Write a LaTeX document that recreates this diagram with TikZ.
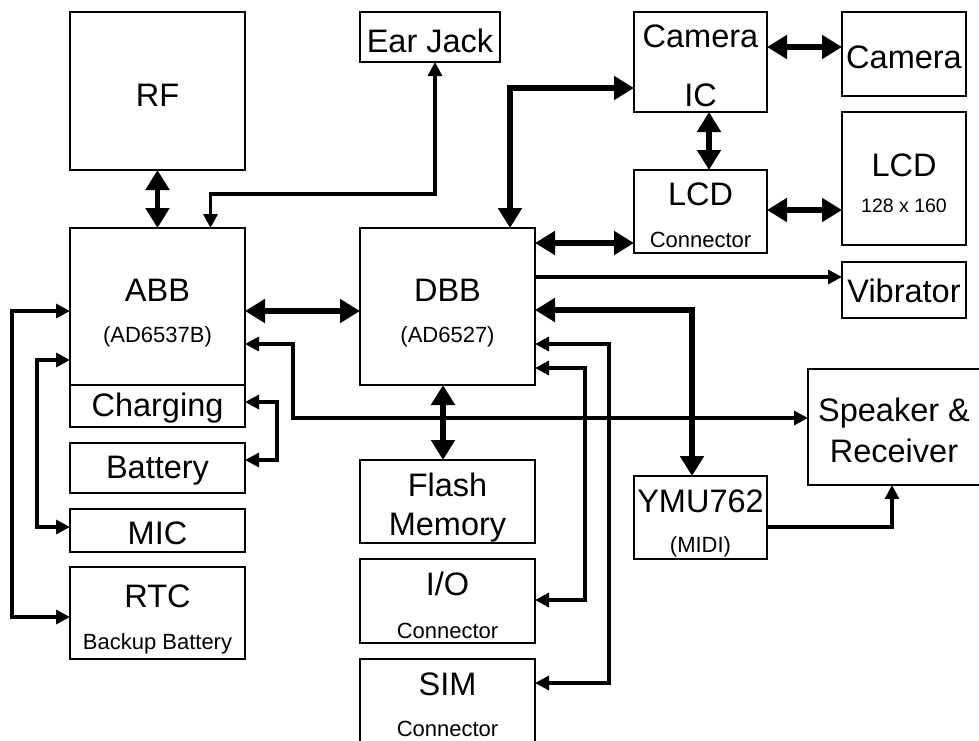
\documentclass[tikz,border=0pt]{standalone}
\usepackage{fontspec}
\setmainfont{Liberation Sans}
\usetikzlibrary{arrows.meta,calc}
\begin{document}
\begin{tikzpicture}[x=1pt,y=-1pt,
  box/.style={draw, line width=1.6pt, inner sep=0pt, outer sep=0pt},
  big/.style={font=\fontsize{32.5}{36}\selectfont, anchor=base, inner sep=0pt},
  small/.style={font=\fontsize{22}{26}\selectfont, anchor=base, inner sep=0pt},
  tiny/.style={font=\fontsize{19.5}{22}\selectfont, anchor=base, inner sep=0pt},
  thinline/.style={line width=3.2pt, {Triangle[length=14pt,width=14pt]}-{Triangle[length=14pt,width=14pt]}},
  thinone/.style={line width=3.2pt, -{Triangle[length=14pt,width=14pt]}},
  thickline/.style={line width=5.6pt, {Triangle[length=20pt,width=23pt]}-{Triangle[length=20pt,width=23pt]}}
]
\useasboundingbox (0,0) rectangle (979,740);

% boxes
\node[box, minimum width=175pt, minimum height=158pt] (rf) at (157.5,91) {};
\node[box, minimum width=140pt, minimum height=50pt] (earjack) at (430,37) {};
\node[box, minimum width=175pt, minimum height=157pt] (abb) at (157.5,306.5) {};
\node[box, minimum width=175pt, minimum height=42pt] (charging) at (157.5,406) {};
\node[box, minimum width=175pt, minimum height=50pt] (battery) at (157.5,468) {};
\node[box, minimum width=175pt, minimum height=43pt] (mic) at (157.5,530.5) {};
\node[box, minimum width=175pt, minimum height=92pt] (rtc) at (157.5,613) {};
\node[box, minimum width=175pt, minimum height=157pt] (dbb) at (447.5,306.5) {};
\node[box, minimum width=175pt, minimum height=83pt] (flash) at (447.5,501.5) {};
\node[box, minimum width=175pt, minimum height=84pt] (io) at (447.5,601) {};
\node[box, minimum width=175pt, minimum height=101pt] (sim) at (447.5,709.5) {};
\node[box, minimum width=133pt, minimum height=100pt] (camic) at (700.5,62) {};
\node[box, minimum width=124pt, minimum height=84pt] (camera) at (904,54) {};
\node[box, minimum width=133pt, minimum height=83pt] (lcdconn) at (700.5,211.5) {};
\node[box, minimum width=124pt, minimum height=133pt] (lcd) at (904,178.5) {};
\node[box, minimum width=124pt, minimum height=56pt] (vib) at (904,290) {};
\node[box, minimum width=184pt, minimum height=116pt] (spk) at (900,427) {};
\node[box, minimum width=133pt, minimum height=83pt] (ymu) at (700.5,517.5) {};

% texts
\node[big] (trf) at (157.5,106) {RF};
\node[big] (tear) at (430,52) {Ear Jack};
\node[big] (tabb) at (157.5,301) {ABB};
\node[small] (tabbs) at (157.5,342) {(AD6537B)};
\node[big] (tchg) at (157.5,416) {Charging};
\node[big] (tbat) at (157.5,478) {Battery};
\node[big] (tmic) at (157.5,544) {MIC};
\node[big] (trtc) at (157.5,607) {RTC};
\node[small] (trtcs) at (157.5,649) {Backup Battery};
\node[big] (tdbb) at (447.5,301) {DBB};
\node[small] (tdbbs) at (447.5,342) {(AD6527)};
\node[big] (tfl1) at (447.5,496) {Flash};
\node[big] (tfl2) at (447.5,535) {Memory};
\node[big] (tio) at (447.5,595) {I/O};
\node[small] (tios) at (447.5,638) {Connector};
\node[big] (tsim) at (447.5,695) {SIM};
\node[small] (tsims) at (447.5,736) {Connector};
\node[big] (tcam1) at (700.5,47) {Camera};
\node[big] (tcam2) at (700.5,106) {IC};
\node[big] (tcam) at (904,68) {Camera};
\node[big] (tlcdc) at (700.5,205) {LCD};
\node[small] (tlcdcs) at (700.5,247) {Connector};
\node[big] (tlcd) at (904,176) {LCD};
\node[tiny] (tlcds) at (904,212) {128 x 160};
\node[big] (tvib) at (904,302) {Vibrator};
\node[big] (tspk1) at (894,421) {Speaker \&};
\node[big] (tspk2) at (894,462) {Receiver};
\node[big] (tymu) at (700.5,512) {YMU762};
\node[small] (tymus) at (700.5,552) {(MIDI)};

% thick connectors
\draw[thickline] (rf.south) -- (abb.north);
\draw[thickline] ($(abb.north east)+(0,83)$) -- ($(dbb.north west)+(0,83)$);
\draw[thickline] ($(dbb.north west)+(150,0)$) |- ($(camic.north west)+(0,76)$);
\draw[thickline] ($(camic.north east)+(0,35)$) -- ($(camera.north west)+(0,35)$);
\draw[thickline] ($(camic.south)+(8.5,0)$) -- ($(lcdconn.north)+(8.5,0)$);
\draw[thickline] ($(lcdconn.north east)+(0,40)$) -- ($(lcd.north west)+(0,98)$);
\draw[thickline] ($(dbb.north east)+(0,15)$) -- ($(lcdconn.north west)+(0,73)$);
\draw[thickline] ($(dbb.north east)+(0,82)$) -| ($(ymu.north)+(-8.5,0)$);
\draw[thickline] ($(dbb.south)+(-4.5,0)$) -- ($(flash.north)+(-4.5,0)$);

% thin connectors
\draw[thinline] ($(abb.north)+(53,0)$) -- ++(0,-34) -| ($(earjack.south)+(5,0)$);
\draw[thinline] ($(abb.north east)+(0,116)$) -- ++(48,0) |- ($(spk.north west)+(0,49)$);
\draw[thinone] ($(dbb.north east)+(0,49)$) -- ($(vib.north west)+(0,15)$);
\draw[thinline] ($(dbb.north east)+(0,116)$) -- ++(74,0) |- ($(sim.north east)+(0,24)$);
\draw[thinline] ($(dbb.north east)+(0,140)$) -- ++(50,0) |- ($(io.north east)+(0,41)$);
\draw[thinone] ($(ymu.north east)+(0,51)$) -| ($(spk.south west)+(84,0)$);
\draw[thinline] ($(abb.north west)+(0,83)$) -- ++(-58,0) |- ($(rtc.north west)+(0,50)$);
\draw[thinline] ($(abb.north west)+(0,132)$) -- ++(-33,0) |- ($(mic.north west)+(0,18)$);
\draw[thinline] ($(charging.north east)+(0,17)$) -- ++(32,0) |- ($(battery.north east)+(0,17)$);
\end{tikzpicture}
\end{document}
